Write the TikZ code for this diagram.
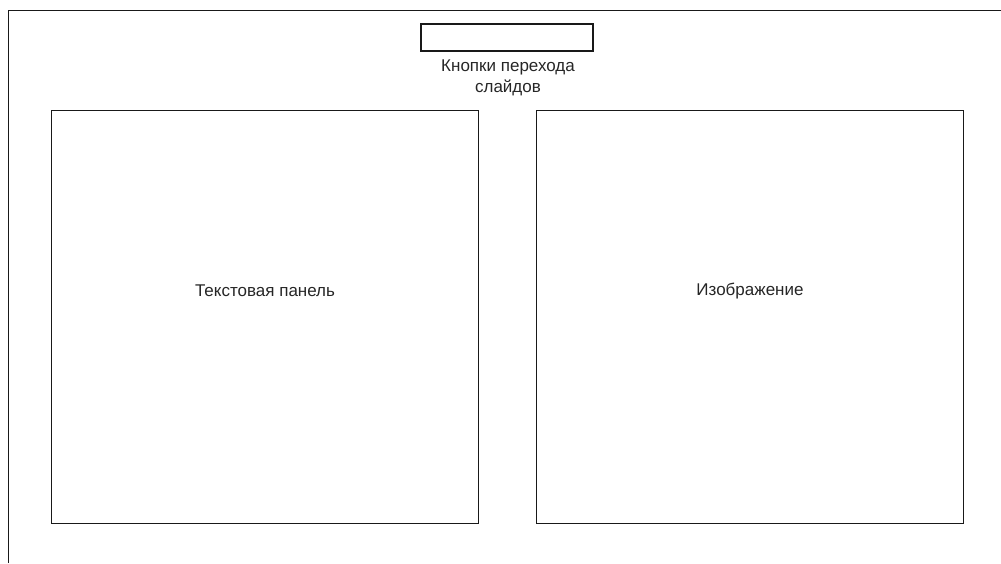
\documentclass[tikz,border=0pt]{standalone}
\usepackage{fontspec}
\setmainfont{Liberation Sans}
\begin{document}
\begin{tikzpicture}[x=1pt,y=-1pt,
  panel/.style={draw=black!90,line width=1.6pt},
  lbl/.style={font=\fontsize{17}{21}\selectfont,text=black!85,align=center,inner sep=0pt}]
\useasboundingbox (0,0) rectangle (1001,563);
% outer frame, open at right and bottom
\draw[black!90,line width=1.6pt] (8.5,563) -- (8.5,10.5) -- (1001,10.5);
% slide buttons
\node[panel,minimum width=172pt,minimum height=27pt,inner sep=0pt] (btn) at (507,37.5) {};
\node[lbl,anchor=north] (btnlbl) at (508,60) {Кнопки перехода\\слайдов};
% panels
\draw[panel] (51.5,110.5) rectangle (478.5,523.5);
\node[lbl] (text) at (265,291) {Текстовая панель};
\draw[panel] (536.5,110.5) rectangle (963.5,523.5);
\node[lbl] (img) at (750,291) {Изображение};
\end{tikzpicture}
\end{document}
